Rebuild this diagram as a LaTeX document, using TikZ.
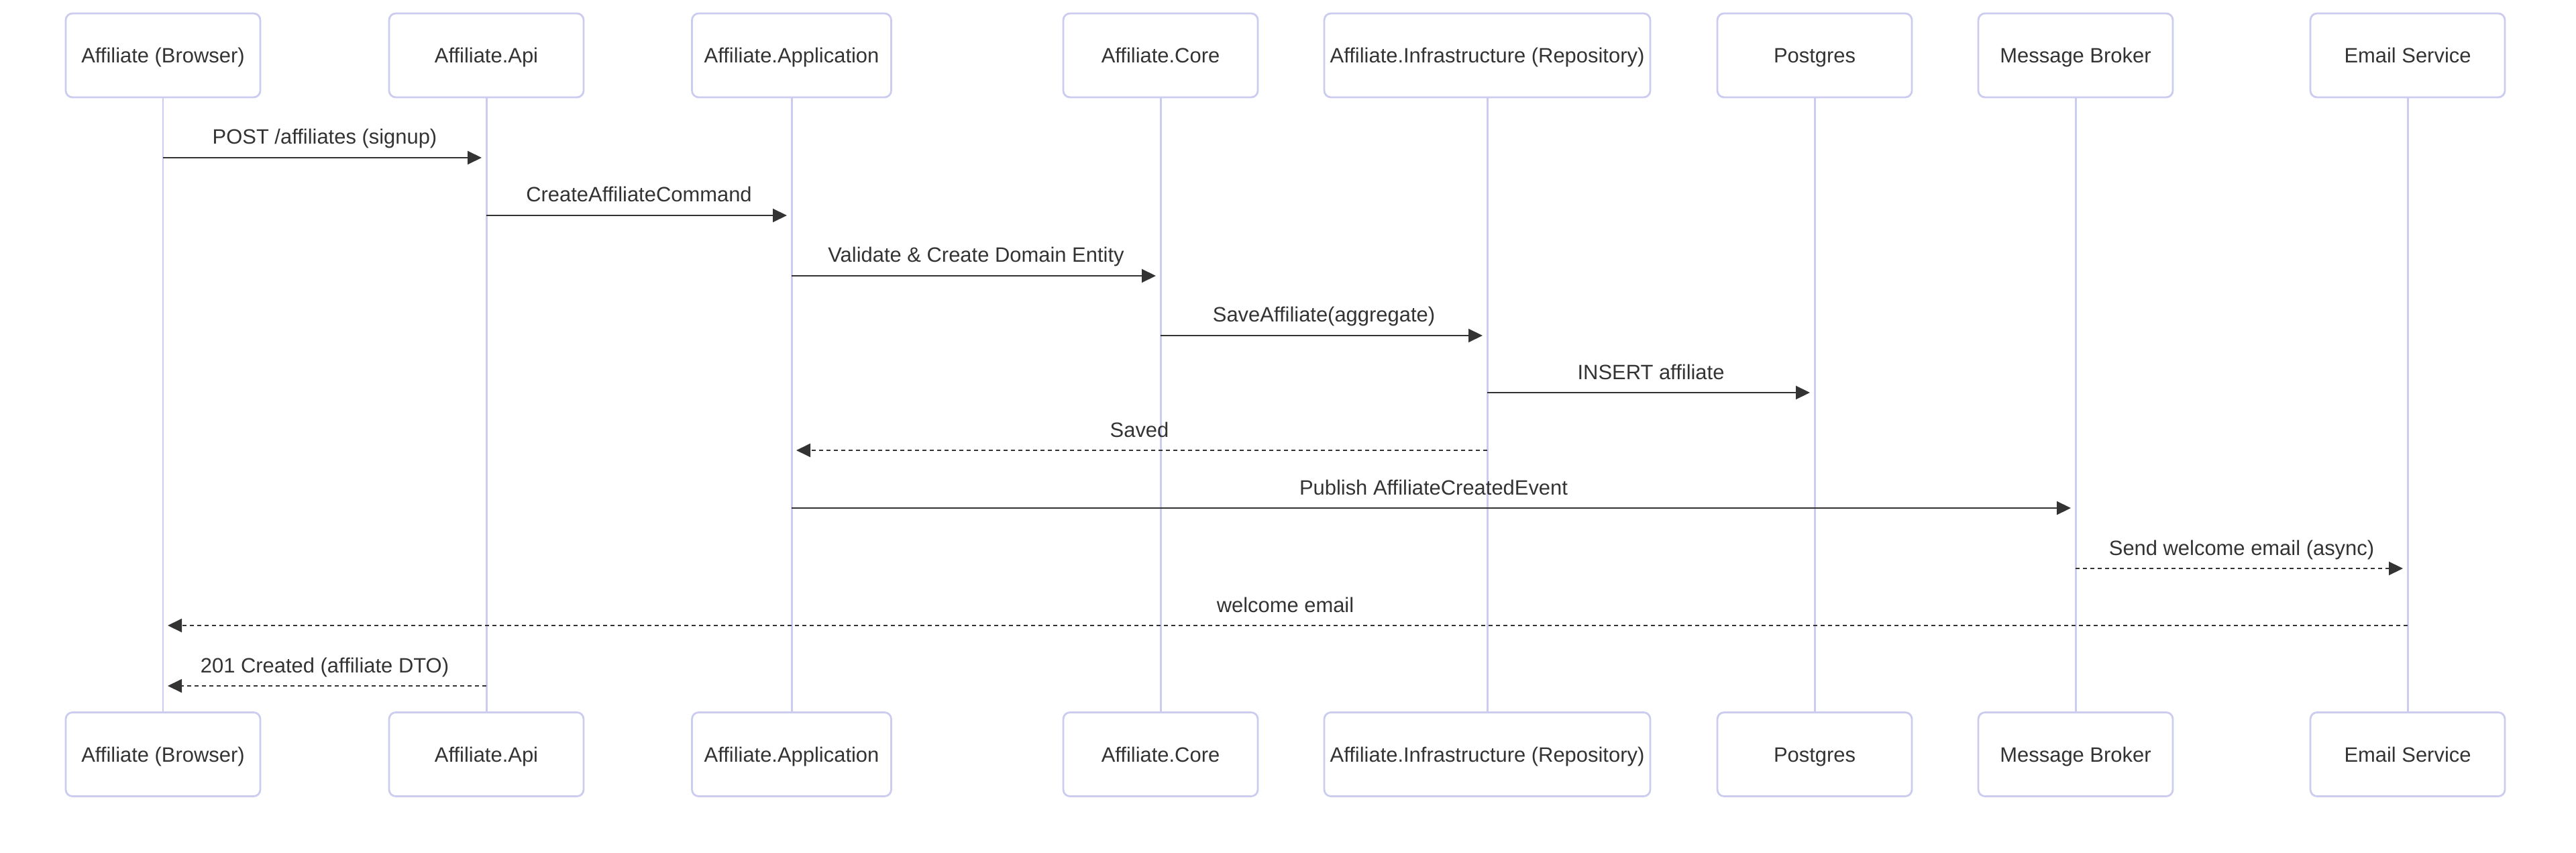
\documentclass[tikz,border=0pt]{standalone}
\usepackage{fontspec}
\setmainfont{Liberation Sans}
\usepackage{xcolor}
\usepackage{tikz}
\usetikzlibrary{arrows.meta}
\definecolor{actorline}{RGB}{204, 204, 240}
\definecolor{msgdark}{RGB}{51, 51, 51}

\begin{document}
\begin{tikzpicture}[font=\fontsize{8.8}{10.5}\selectfont,
  actor/.style={draw=actorline, line width=0.8pt, fill=white, rounded corners=0.1cm, minimum width=2.9cm, minimum height=1.25cm, inner sep=0pt, text height=6.3pt, text depth=0pt, text=msgdark},
  life/.style={draw=actorline, line width=0.85pt},
  msg/.style={-{Triangle[length=0.21cm, width=0.2cm]}, draw=msgdark, line width=0.55pt, shorten >=0.07cm},
  reply/.style={msg, dash pattern=on 0.06cm off 0.05cm},
  lbl/.style={anchor=base, yshift=0.2cm, text=msgdark}]
\useasboundingbox (0,0) rectangle (38.4,-12.71);

% participants, top row
\node[actor] (brw) at (2.43,-0.825) {Affiliate (Browser)};
\node[actor] (api) at (7.25,-0.825) {Affiliate.Api};
\node[actor, minimum width=2.97cm] (app) at (11.8,-0.825) {Affiliate.Application};
\node[actor] (core) at (17.3,-0.825) {Affiliate.Core};
\node[actor, minimum width=4.86cm] (infra) at (22.17,-0.825) {Affiliate.Infrastructure (Repository)};
\node[actor] (pg) at (27.05,-0.825) {Postgres};
\node[actor] (mb) at (30.94,-0.825) {Message Broker};
\node[actor] (mail) at (35.89,-0.825) {Email Service};

% participants, bottom row
\node[actor] (brwB) at (2.43,-11.24) {Affiliate (Browser)};
\node[actor] (apiB) at (7.25,-11.24) {Affiliate.Api};
\node[actor, minimum width=2.97cm] (appB) at (11.8,-11.24) {Affiliate.Application};
\node[actor] (coreB) at (17.3,-11.24) {Affiliate.Core};
\node[actor, minimum width=4.86cm] (infraB) at (22.17,-11.24) {Affiliate.Infrastructure (Repository)};
\node[actor] (pgB) at (27.05,-11.24) {Postgres};
\node[actor] (mbB) at (30.94,-11.24) {Message Broker};
\node[actor] (mailB) at (35.89,-11.24) {Email Service};

% lifelines
\draw[life] (brw) -- (brwB);
\draw[life] (api) -- (apiB);
\draw[life] (app) -- (appB);
\draw[life] (core) -- (coreB);
\draw[life] (infra) -- (infraB);
\draw[life] (pg) -- (pgB);
\draw[life] (mb) -- (mbB);
\draw[life] (mail) -- (mailB);

% message rows
\coordinate (r1) at (0,-2.35);
\coordinate (r2) at (0,-3.21);
\coordinate (r3) at (0,-4.11);
\coordinate (r4) at (0,-5.00);
\coordinate (r5) at (0,-5.85);
\coordinate (r6) at (0,-6.71);
\coordinate (r7) at (0,-7.57);
\coordinate (r8) at (0,-8.47);
\coordinate (r9) at (0,-9.32);
\coordinate (r10) at (0,-10.22);

\draw[msg] (brw |- r1) -- (api |- r1) node[midway, lbl] {POST /affiliates (signup)};
\draw[msg] (api |- r2) -- (app |- r2) node[midway, lbl] {CreateAffiliateCommand};
\draw[msg] (app |- r3) -- (core |- r3) node[midway, lbl] {Validate \& Create Domain Entity};
\draw[msg] (core |- r4) -- (infra |- r4) node[midway, lbl] {SaveAffiliate(aggregate)};
\draw[msg] (infra |- r5) -- (pg |- r5) node[midway, lbl] {INSERT affiliate};
\draw[reply] (infra |- r6) -- (app |- r6) node[midway, lbl] {Saved};
\draw[msg] (app |- r7) -- (mb |- r7) node[midway, lbl] {Publish AffiliateCreatedEvent};
\draw[reply] (mb |- r8) -- (mail |- r8) node[midway, lbl] {Send welcome email (async)};
\draw[reply] (mail |- r9) -- (brw |- r9) node[midway, lbl] {welcome email};
\draw[reply] (api |- r10) -- (brw |- r10) node[midway, lbl] {201 Created (affiliate DTO)};
\end{tikzpicture}
\end{document}
